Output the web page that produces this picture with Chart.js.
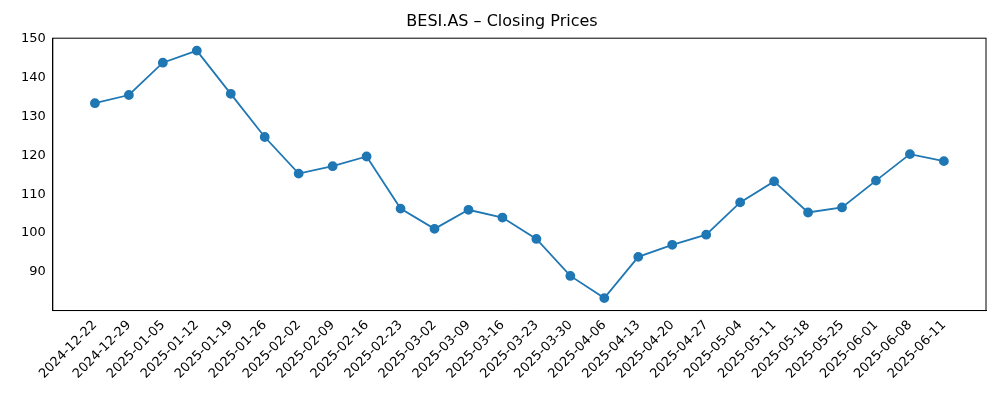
<!DOCTYPE html>
<html><head><meta charset="utf-8">
<script src="https://cdn.jsdelivr.net/npm/chart.js@4"></script>
<style>html,body{margin:0;padding:0;background:#fff}#w{width:1000px;height:400px}</style>
</head><body><div id="w"><canvas id="c"></canvas></div>
<script>
const dates = ["2024-12-22","2024-12-29","2025-01-05","2025-01-12","2025-01-19","2025-01-26","2025-02-02","2025-02-09","2025-02-16","2025-02-23","2025-03-02","2025-03-09","2025-03-16","2025-03-23","2025-03-30","2025-04-06","2025-04-13","2025-04-20","2025-04-27","2025-05-04","2025-05-11","2025-05-18","2025-05-25","2025-06-01","2025-06-08","2025-06-11"];
const closes = [133.4,135.5,143.8,146.9,135.8,124.7,115.3,117.2,119.7,106.3,101.1,106.0,104.0,98.5,89.0,83.3,93.9,97.0,99.6,107.9,113.3,105.3,106.6,113.5,120.3,118.5];
const yTicks = [90,100,110,120,130,140,150];
const font = {family:"DejaVu Sans", size:13};
new Chart(document.getElementById('c'), {
  type:'line',
  data:{datasets:[{data:closes.map((v,i)=>({x:i,y:v})),borderColor:'#1f77b4',backgroundColor:'#1f77b4',borderWidth:1.8,pointRadius:4,pointHoverRadius:4,tension:0}]},
  options:{
    responsive:true,maintainAspectRatio:false,animation:false,
    layout:{padding:{top:4,right:14,left:18,bottom:15}},
    plugins:{legend:{display:false},tooltip:{enabled:false},
      title:{display:true,text:'BESI.AS – Closing Prices',color:'#000',font:{family:"DejaVu Sans",size:16,weight:'normal'},padding:{top:8,bottom:7}}},
    scales:{
      x:{type:'linear',min:-1.24,max:26.24,
        afterBuildTicks:a=>{a.ticks=dates.map((d,i)=>({value:i}));},
        ticks:{autoSkip:false,maxRotation:45,minRotation:45,color:'#000',font:font,callback:(v)=>dates[v]},
        grid:{display:false,drawTicks:true,tickLength:4},border:{color:'#000'}},
      y:{min:80.1,max:150.1,
        afterBuildTicks:a=>{a.ticks=yTicks.map(v=>({value:v}));},
        ticks:{color:'#000',font:font},
        grid:{display:false,tickLength:4},border:{color:'#000'}}
    }
  },
  plugins:[{id:'frame',afterDraw(ch){const a=ch.chartArea,c=ch.ctx;c.save();c.strokeStyle='#000';c.lineWidth=1;c.strokeRect(a.left,a.top,a.right-a.left,a.bottom-a.top);c.restore();}}]
});
</script></body></html>
